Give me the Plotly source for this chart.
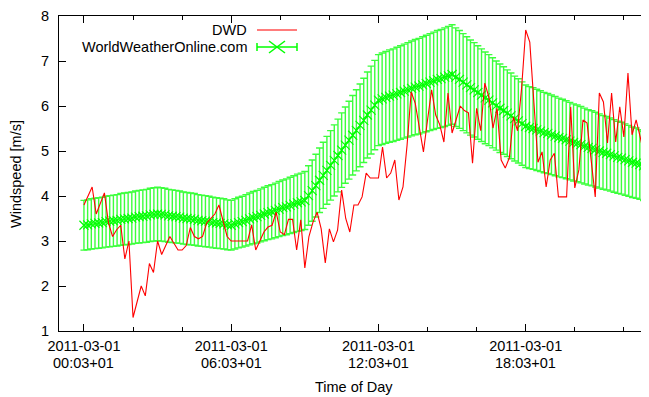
import pandas as pd
import plotly.graph_objects as go

# ---- data ----
dwd_start = "2011-03-01 00:03"
dwd_values = [
    3.80, 4.00, 4.20, 3.60, 3.85, 4.07, 3.40, 3.10, 3.25, 3.35,
    2.60, 3.00, 1.30, 1.65, 2.00, 1.78, 2.50, 2.30, 3.00, 2.70,
    2.90, 3.10, 2.95, 2.80, 2.80, 2.90, 3.30, 3.10, 3.05, 3.10,
    3.40, 3.50, 3.60, 3.80, 3.45, 3.10, 3.00, 3.00, 3.00, 3.00,
    3.00, 3.36, 2.80, 3.00, 3.20, 3.31, 3.35, 3.64, 3.20, 3.14,
    3.48, 3.48, 2.80, 3.47, 2.40, 3.10, 3.42, 3.64, 3.27, 2.51,
    3.27, 2.98, 3.24, 4.13, 3.50, 3.20, 3.80, 3.80, 3.98, 4.51,
    4.40, 4.40, 4.40, 5.09, 4.40, 4.51, 4.80, 3.91, 4.20, 5.13,
    6.31, 6.06, 5.50, 4.98, 5.69, 6.36, 5.80, 5.58, 5.20, 6.29,
    5.40, 5.69, 6.00, 5.90, 5.85, 4.73, 5.95, 5.45, 6.51, 6.20,
    5.51, 5.95, 4.80, 4.62, 4.85, 5.76, 5.45, 6.40, 7.69, 7.42,
    6.00, 4.75, 4.98, 4.20, 4.80, 4.95, 3.98, 3.98, 3.98, 5.98,
    4.18, 4.58, 5.69, 5.62, 4.73, 3.98, 6.29, 6.09, 5.18, 6.29,
    5.20, 5.98, 5.31, 6.73, 5.36, 5.69, 5.31, 4.87, 5.09,
]

wwo_start = "2011-03-01 00:03"
wwo_values = [
    3.35, 3.36, 3.38, 3.39, 3.40, 3.41, 3.43, 3.44, 3.45, 3.46,
    3.48, 3.49, 3.50, 3.51, 3.53, 3.54, 3.55, 3.56, 3.58, 3.59,
    3.60, 3.59, 3.58, 3.56, 3.55, 3.54, 3.53, 3.51, 3.50, 3.49,
    3.48, 3.46, 3.45, 3.44, 3.43, 3.41, 3.40, 3.39, 3.38, 3.36,
    3.35, 3.38, 3.41, 3.43, 3.46, 3.49, 3.52, 3.54, 3.57, 3.60,
    3.63, 3.65, 3.68, 3.71, 3.74, 3.76, 3.79, 3.82, 3.85, 3.87,
    3.90, 4.01, 4.12, 4.23, 4.35, 4.46, 4.57, 4.68, 4.79, 4.90,
    5.02, 5.13, 5.24, 5.35, 5.46, 5.57, 5.68, 5.80, 5.91, 6.02,
    6.13, 6.16, 6.19, 6.22, 6.24, 6.27, 6.30, 6.33, 6.36, 6.39,
    6.42, 6.44, 6.47, 6.50, 6.53, 6.56, 6.59, 6.61, 6.64, 6.67,
    6.70, 6.64, 6.59, 6.53, 6.47, 6.41, 6.36, 6.30, 6.24, 6.18,
    6.13, 6.07, 6.01, 5.95, 5.90, 5.84, 5.78, 5.72, 5.67, 5.61,
    5.55, 5.52, 5.50, 5.47, 5.44, 5.41, 5.39, 5.36, 5.33, 5.30,
    5.28, 5.25, 5.22, 5.19, 5.17, 5.14, 5.11, 5.08, 5.06, 5.03,
    5.00, 4.97, 4.95, 4.92, 4.89, 4.86, 4.84, 4.81, 4.78, 4.75,
    4.73, 4.70, 4.67, 4.64,
]
wwo_error_percent = 16.5

x_tick_vals = ["2011-03-01 00:03", "2011-03-01 06:03", "2011-03-01 12:03", "2011-03-01 18:03"]
x_tick_date = ["2011-03-01", "2011-03-01", "2011-03-01", "2011-03-01"]
x_tick_time = ["00:03+01", "06:03+01", "12:03+01", "18:03+01"]
x_range = ["2011-02-28 23:02", "2011-03-01 23:02"]
y_tick_vals = [1, 2, 3, 4, 5, 6, 7, 8]

dwd_times = pd.date_range(dwd_start, periods=len(dwd_values), freq="10min")
wwo_times = pd.date_range(wwo_start, periods=len(wwo_values), freq="9min")

FONT = "Liberation Sans, Arial, Helvetica, sans-serif"
GREEN = "#00ff00"
RED = "#ff0000"

# The page body has an 8px margin, so the figure is made 8px smaller and the
# plot area is kept at page pixels x 59..648, y 16..331.
W, H = 641, 389

fig = go.Figure()
fig.add_trace(go.Scatter(
    x=wwo_times, y=wwo_values, mode="lines+markers", name="WorldWeatherOnline.com",
    line=dict(color=GREEN, width=1),
    marker=dict(symbol="x-thin", size=9, line=dict(color=GREEN, width=1.2)),
    error_y=dict(type="percent", value=wwo_error_percent, color="#3cff3c",
                 thickness=1.4, width=3.5),
    showlegend=False,
))
fig.add_trace(go.Scatter(
    x=dwd_times, y=dwd_values, mode="lines", name="DWD",
    line=dict(color=RED, width=1.1), showlegend=False,
))

# ---- gnuplot-style key (text left of sample) ----
def px(x):
    return (x - 59) / 589.0

def py(y):
    return (331 - y) / 315.0

fig.add_annotation(x=px(249), y=py(30), xref="paper", yref="paper", text="DWD",
                   showarrow=False, xanchor="right", yanchor="middle",
                   font=dict(family=FONT, size=14.5, color="black"))
fig.add_annotation(x=px(249), y=py(47), xref="paper", yref="paper",
                   text="WorldWeatherOnline.com", showarrow=False,
                   xanchor="right", yanchor="middle",
                   font=dict(family=FONT, size=14.5, color="black"))
fig.add_shape(type="line", xref="paper", yref="paper", x0=px(257), x1=px(297),
              y0=py(30), y1=py(30), line=dict(color="#ff5050", width=1.5))
fig.add_shape(type="line", xref="paper", yref="paper", x0=px(257), x1=px(297),
              y0=py(47), y1=py(47), line=dict(color=GREEN, width=1.5))
for cx in (257, 297):
    fig.add_shape(type="line", xref="paper", yref="paper", x0=px(cx), x1=px(cx),
                  y0=py(43), y1=py(51), line=dict(color=GREEN, width=1.5))
fig.add_shape(type="line", xref="paper", yref="paper", x0=px(269), x1=px(285),
              y0=py(41), y1=py(53), line=dict(color=GREEN, width=1.5))
fig.add_shape(type="line", xref="paper", yref="paper", x0=px(269), x1=px(285),
              y0=py(53), y1=py(41), line=dict(color=GREEN, width=1.5))

# second line of the x tick labels (time of day with zone)
for tv, tt in zip(x_tick_vals, x_tick_time):
    fig.add_annotation(x=tv, y=py(363), xref="x", yref="paper", text=tt,
                       showarrow=False, xanchor="center", yanchor="middle",
                       font=dict(family=FONT, size=14.5, color="black"))

# axis titles
fig.add_annotation(x=px(354), y=py(387), xref="paper", yref="paper", text="Time of Day",
                   showarrow=False, xanchor="center", yanchor="middle",
                   font=dict(family=FONT, size=14.5, color="black"))
fig.add_annotation(x=px(16), y=py(174), xref="paper", yref="paper", text="Windspeed [m/s]",
                   showarrow=False, xanchor="center", yanchor="middle", textangle=-90,
                   font=dict(family=FONT, size=14.5, color="black"))

fig.update_layout(
    width=W, height=H,
    margin=dict(l=51, r=1, t=8, b=66),
    paper_bgcolor="white", plot_bgcolor="white",
    font=dict(family=FONT, size=14.5, color="black"),
    showlegend=False,
)
fig.update_xaxes(
    range=x_range, tickmode="array", tickvals=x_tick_vals, ticktext=x_tick_date,
    ticks="inside", ticklen=7, tickcolor="black", tickwidth=1,
    showline=True, linecolor="black", linewidth=1, mirror="ticks",
    showgrid=False, zeroline=False, ticklabelstandoff=2,
    minor=dict(ticks="inside", ticklen=4, tickcolor="black", tickmode="linear",
               tick0="2011-03-01 00:03", dtick=7200000, showgrid=False),
)
fig.update_yaxes(
    range=[1, 8], tickmode="array", tickvals=y_tick_vals,
    ticks="inside", ticklen=7, tickcolor="black", tickwidth=1,
    showline=True, linecolor="black", linewidth=1, mirror="ticks",
    showgrid=False, zeroline=False, ticklabelstandoff=6,
)

fig.write_html("out.html")
